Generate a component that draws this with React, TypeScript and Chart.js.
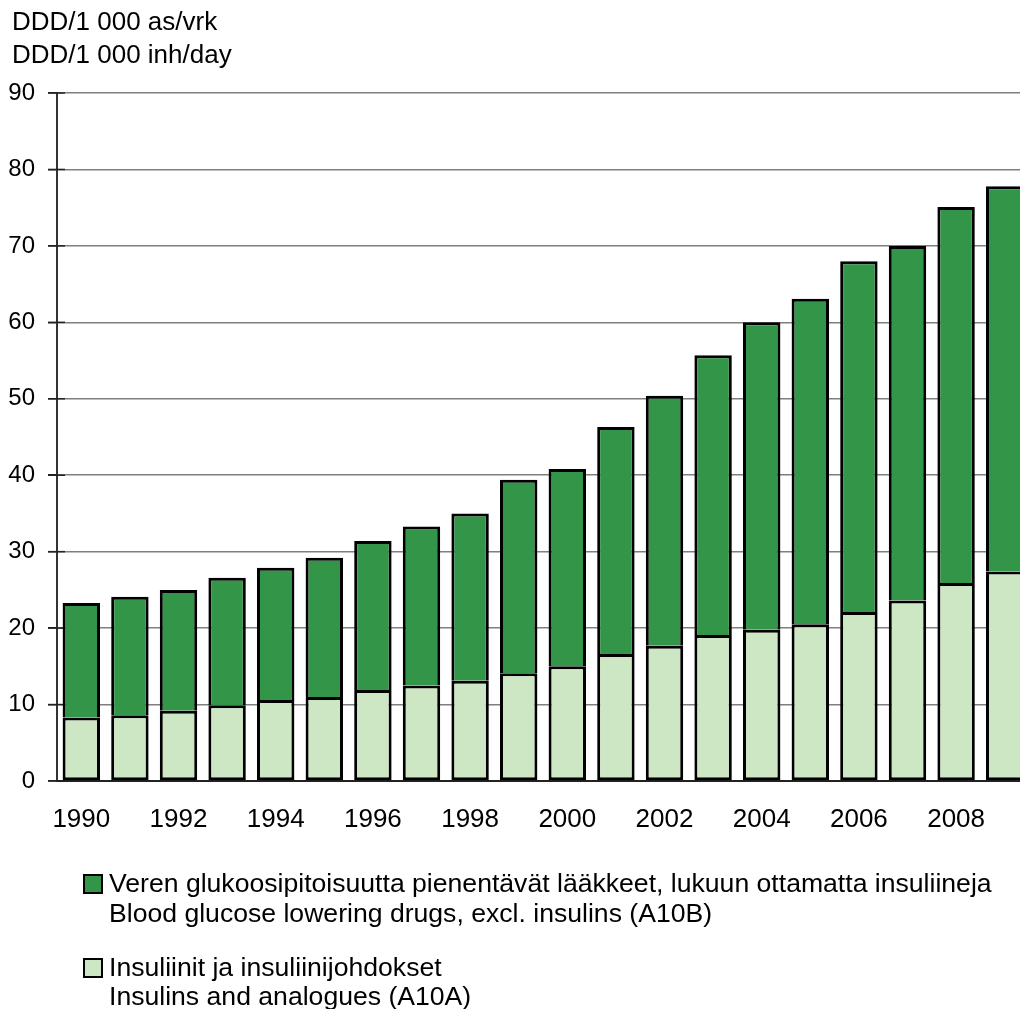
import React, { useEffect, useRef } from "react";
import { Chart, registerables } from "chart.js";

Chart.register(...registerables);

const years = ["1990","1991","1992","1993","1994","1995","1996","1997","1998","1999","2000","2001","2002","2003","2004","2005","2006","2007","2008","2009"];
const insulins = [8.3, 8.6, 9.2, 9.9, 10.6, 11.0, 11.9, 12.5, 13.1, 14.1, 15.0, 16.6, 17.7, 19.1, 19.8, 20.5, 22.1, 23.6, 25.9, 27.4];
const otherDrugs = [15.0, 15.5, 15.8, 16.7, 17.3, 18.2, 19.5, 20.8, 21.9, 25.3, 25.8, 29.7, 32.7, 36.6, 40.2, 42.6, 45.9, 46.4, 49.2, 50.4];
const yTitleLines = ["DDD/1 000 as/vrk", "DDD/1 000 inh/day"];
const legendOther = ["Veren glukoosipitoisuutta pienentävät lääkkeet, lukuun ottamatta insuliineja", "Blood glucose lowering drugs, excl. insulins (A10B)"];
const legendInsulin = ["Insuliinit ja insuliinijohdokset", "Insulins and analogues (A10A)"];

const DARK = "#339548";
const LIGHT = "#cde6c4";
const FONT = "'Liberation Sans', Arial, sans-serif";

export default function App() {
  const ref = useRef<HTMLCanvasElement | null>(null);
  useEffect(() => {
    if (!ref.current) return;
    const textPlugin = {
      id: "texts",
      beforeDatasetsDraw(chart: any) {
        const ctx = chart.ctx;
        const y = chart.scales.y;
        const left = chart.chartArea.left;
        ctx.save();
        ctx.strokeStyle = "#222";
        ctx.lineWidth = 1.5;
        y.ticks.forEach((t: any) => {
          const py = y.getPixelForValue(t.value);
          ctx.beginPath();
          ctx.moveTo(left - 9, py);
          ctx.lineTo(left + 8, py);
          ctx.stroke();
        });
        ctx.restore();
      },
      afterDraw(chart: any) {
        const ctx = chart.ctx;
        ctx.save();
        ctx.fillStyle = "#000";
        ctx.textAlign = "left";
        ctx.textBaseline = "middle";
        ctx.font = `26px ${FONT}`;
        ctx.fillText(yTitleLines[0], 12, 23);
        ctx.fillText(yTitleLines[1], 12, 56);
        const drawEntry = (color: string, lines: string[], boxY: number, y1: number, y2: number) => {
          ctx.fillStyle = color;
          ctx.fillRect(84, boxY, 18, 18);
          ctx.strokeStyle = "#000";
          ctx.lineWidth = 2;
          ctx.strokeRect(84, boxY, 18, 18);
          ctx.fillStyle = "#000";
          ctx.font = `26.6px ${FONT}`;
          ctx.fillText(lines[0], 109, y1);
          ctx.fillText(lines[1], 109, y2);
        };
        drawEntry(DARK, legendOther, 875, 885, 915);
        drawEntry(LIGHT, legendInsulin, 959, 969, 998);
        ctx.restore();
      },
    };
    const chart = new Chart(ref.current, {
      type: "bar",
      data: {
        labels: years,
        datasets: [
          {
            label: "Insulins and analogues (A10A)",
            data: insulins,
            backgroundColor: LIGHT,
            borderColor: "#000",
            borderWidth: 3,
            borderSkipped: false,
            barPercentage: 0.77,
            categoryPercentage: 1,
          },
          {
            label: "Blood glucose lowering drugs, excl. insulins (A10B)",
            data: otherDrugs,
            backgroundColor: DARK,
            borderColor: "#000",
            borderWidth: 3,
            barPercentage: 0.77,
            categoryPercentage: 1,
          },
        ],
      },
      options: {
        responsive: false,
        animation: false,
        layout: { padding: { top: 93, left: 0, right: 0, bottom: 0 } },
        plugins: { legend: { display: false }, tooltip: { enabled: false }, title: { display: false } },
        scales: {
          x: {
            stacked: true,
            grid: { display: false, drawTicks: false },
            border: { display: true, color: "#222", width: 2 },
            ticks: {
              autoSkip: false,
              maxRotation: 0,
              padding: 23,
              color: "#000",
              font: { family: FONT, size: 26 },
              callback: (_v: any, i: number) => (i % 2 === 0 ? years[i] : ""),
            },
            afterFit: (s: any) => { s.height = 1009 - 781; },
          },
          y: {
            stacked: true,
            min: 0,
            max: 90,
            ticks: { stepSize: 10, padding: 13, color: "#000", font: { family: FONT, size: 24 } },
            grid: { color: "#7f7f7f", lineWidth: 1.5, tickLength: 9, tickColor: "#222", tickWidth: 1.5 },
            border: { display: true, color: "#333", width: 2 },
            afterFit: (s: any) => { s.width = 57; },
          },
        },
      },
      plugins: [textPlugin],
    });
    return () => chart.destroy();
  }, []);
  return (
    <div style={{ position: "absolute", left: 0, top: 0, width: 1020, height: 1009, overflow: "hidden", background: "#fff" }}>
      <canvas ref={ref} width={1029} height={1009} style={{ display: "block" }} />
    </div>
  );
}
